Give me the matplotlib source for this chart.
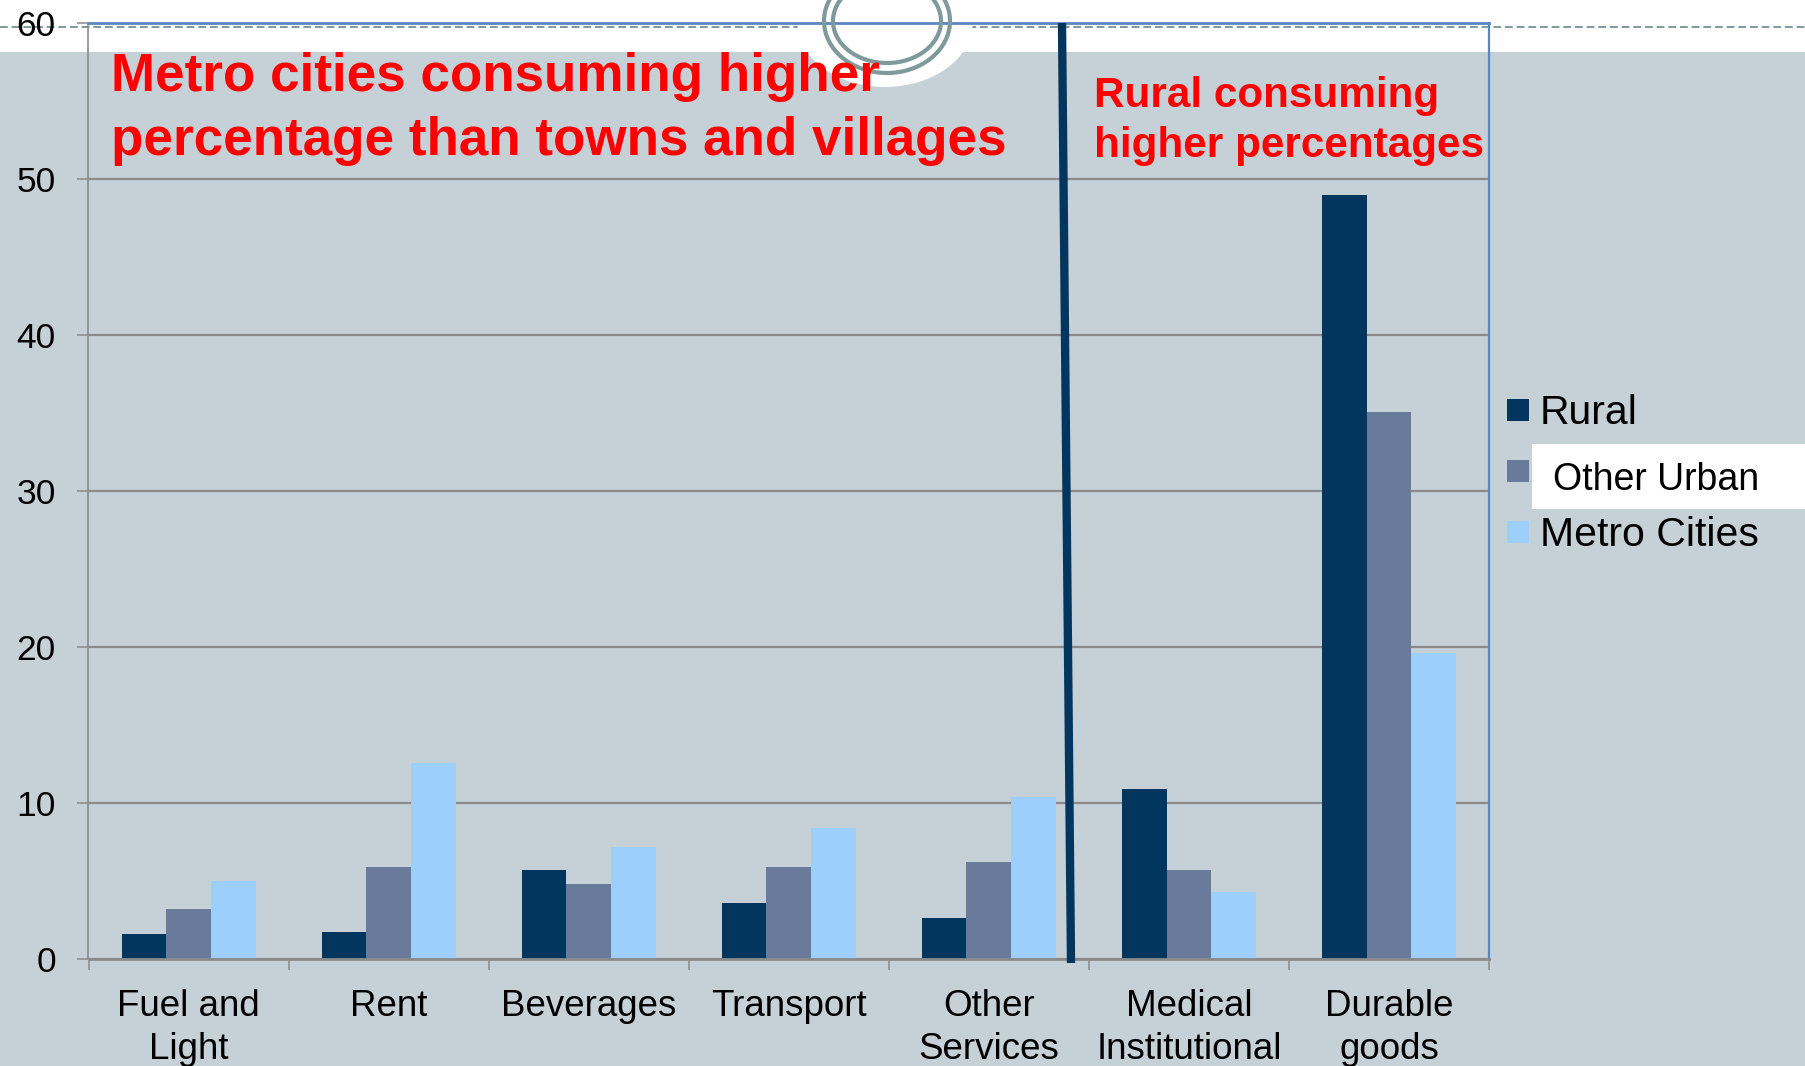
import matplotlib
matplotlib.use("Agg")
import matplotlib.pyplot as plt
from matplotlib.patches import Rectangle, Ellipse
from matplotlib.lines import Line2D
import numpy as np

# ---- data -------------------------------------------------------------
categories = ["Fuel and\nLight", "Rent", "Beverages", "Transport",
              "Other\nServices", "Medical\nInstitutional", "Durable\ngoods"]
series_names = ["Rural", "Other Urban", "Metro Cities"]
rural = [1.6, 1.75, 5.7, 3.6, 2.6, 10.9, 49.0]
other_urban = [3.2, 5.9, 4.8, 5.9, 6.2, 5.7, 35.1]
metro_cities = [5.0, 12.6, 7.2, 8.4, 10.4, 4.3, 19.6]
y_ticks = [0, 10, 20, 30, 40, 50, 60]
note_left = ["Metro cities consuming higher", "percentage than towns and villages"]
note_right = ["Rural consuming", "higher percentages"]

# ---- styling ----------------------------------------------------------
W, H = 1806, 1066
BG = "#c5d0d7"
SERIES_COLORS = ["#03365e", "#6a7a9a", "#9dcffc"]
GRID = "#8a8a8a"
FRAME_BLUE = "#5b86c2"
ORNAMENT = "#7f9a9b"
FONT = "Liberation Sans"

plt.rcParams["font.family"] = [FONT, "DejaVu Sans"]

fig = plt.figure(figsize=(W / 100, H / 100), dpi=100, facecolor=BG)


def fx(px):
    return px / W


def fy(py):
    return 1 - py / H


# slide header: white band, dashed rule and ring ornament
fig.patches.append(Rectangle((0, fy(52)), 1, 52 / H, transform=fig.transFigure,
                             facecolor="white", edgecolor="none", zorder=-3))
fig.lines.append(Line2D([0, 1], [fy(26.7), fy(26.7)], transform=fig.transFigure,
                        color=ORNAMENT, lw=1.4, dashes=(4, 2), zorder=-2))
fig.patches.append(Ellipse((fx(885), fy(23)), 175 / W, 128 / H, transform=fig.transFigure,
                           facecolor="white", edgecolor="none", zorder=-1))
for w, h in [(126, 104), (108, 84)]:
    fig.patches.append(Ellipse((fx(887), fy(21)), w / W, h / H, transform=fig.transFigure,
                               fill=False, edgecolor=ORNAMENT, lw=3.0, zorder=3))

# ---- chart ------------------------------------------------------------
ax = fig.add_axes([fx(88.5), fy(959), fx(1489) - fx(88.5), fy(23.3) - fy(959)])
ax.set_facecolor("none")

x = np.arange(len(categories))
bw = 0.2233
for i, (vals, col, name) in enumerate(zip([rural, other_urban, metro_cities],
                                          SERIES_COLORS, series_names)):
    ax.bar(x + (i - 1) * bw, vals, width=bw, color=col, label=name, zorder=2)

ax.set_xlim(-0.5, len(categories) - 0.5)
ax.set_ylim(0, 60)
ax.set_yticks(y_ticks)
ax.set_yticklabels([str(t) for t in y_ticks])
ax.yaxis.grid(True, color=GRID, lw=1.6)
ax.set_axisbelow(True)

ax.set_xticks(x)
ax.set_xticklabels(categories, linespacing=1.3)
ax.set_xticks(np.arange(len(categories) + 1) - 0.5, minor=True)
ax.tick_params(axis="x", which="major", length=0, pad=21.5, labelsize=26.5)
ax.tick_params(axis="x", which="minor", length=8, width=1.1, color=GRID, direction="out")
ax.tick_params(axis="y", which="major", length=8, width=1.1, color=GRID,
               direction="out", pad=15.5, labelsize=25.5)

for side in ["left", "bottom"]:
    ax.spines[side].set_color(GRID)
ax.spines["left"].set_linewidth(1.2)
ax.spines["bottom"].set_linewidth(2.0)
ax.spines["top"].set_color(FRAME_BLUE)
ax.spines["top"].set_linewidth(2.0)
ax.spines["right"].set_color(FRAME_BLUE)
ax.spines["right"].set_linewidth(1.6)

# divider between the two groups of categories
fig.lines.append(Line2D([fx(1062), fx(1071)], [fy(23), fy(963)], transform=fig.transFigure,
                        color="#03365e", lw=6, solid_capstyle="butt", zorder=4))

# annotations
for txt, base in zip(note_left, [90.7, 155.0]):
    fig.text(fx(110.7), fy(base), txt, color="#ff0000", fontsize=38.2,
             fontweight="bold", ha="left", va="baseline", zorder=5)
for txt, base in zip(note_right, [106.7, 156.7]):
    fig.text(fx(1093.6), fy(base), txt, color="#ff0000", fontsize=30.4,
             fontweight="bold", ha="left", va="baseline", zorder=5)

# legend
fig.patches.append(Rectangle((fx(1532), fy(509)), (W - 1532) / W, 65 / H,
                             transform=fig.transFigure, facecolor="white",
                             edgecolor="none", zorder=1))
legend_rows = [(399, 1540, 424.3, 29.5), (460, 1552.7, 490.0, 27.0), (521, 1540, 545.7, 29.5)]
for name, col, (sq_top, tx, base, fs) in zip(series_names, SERIES_COLORS, legend_rows):
    fig.patches.append(Rectangle((fx(1507), fy(sq_top + 22)), 22 / W, 22 / H,
                                 transform=fig.transFigure, facecolor=col,
                                 edgecolor="none", zorder=2))
    fig.text(fx(tx), fy(base), name, fontsize=fs, color="black",
             ha="left", va="baseline", zorder=3)

fig.savefig("out.png", dpi=100, facecolor=BG)
